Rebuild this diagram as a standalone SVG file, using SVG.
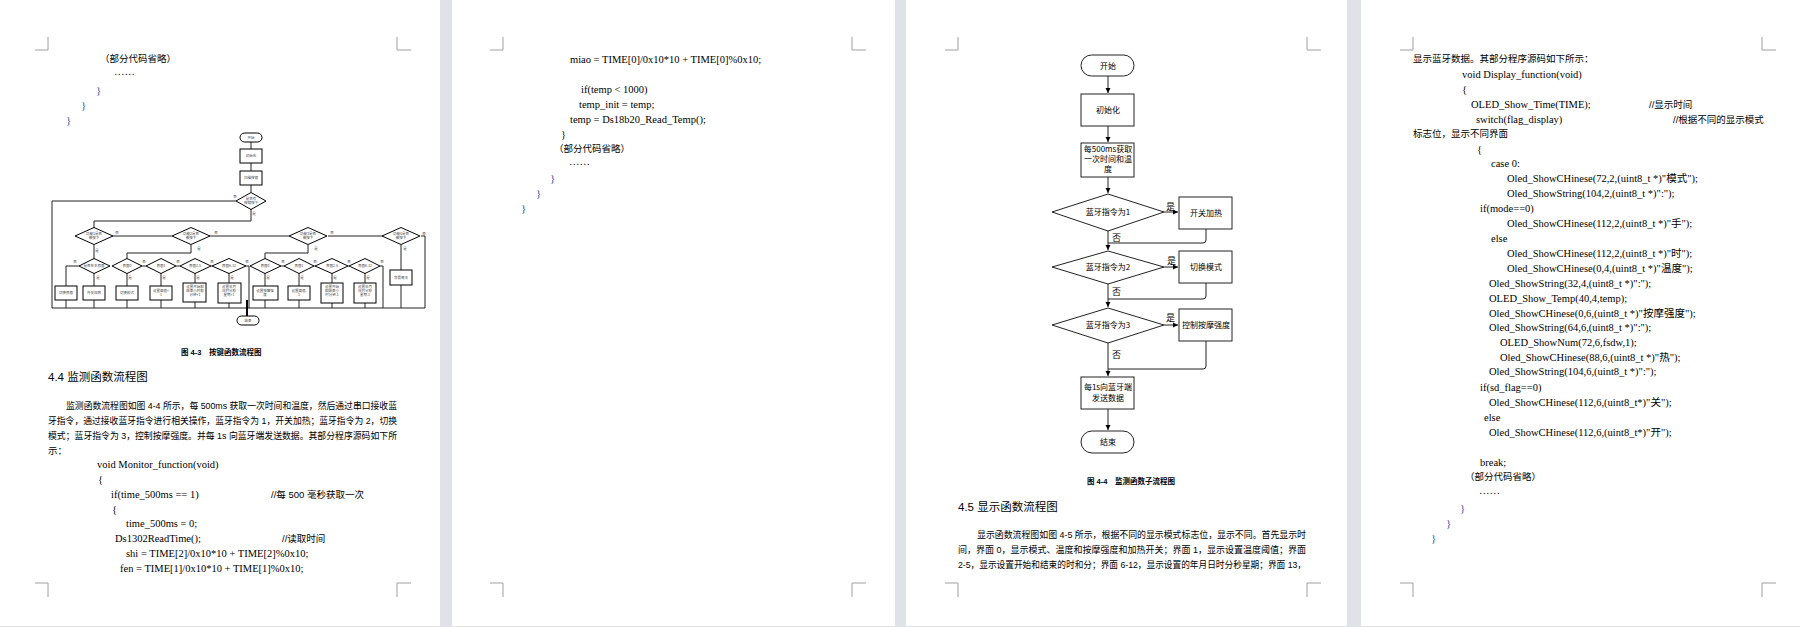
<svg xmlns="http://www.w3.org/2000/svg" width="1800" height="627" viewBox="0 0 1800 627">
<style>
.pg{fill:#fff}
.cm{stroke:#a0a0a0;stroke-width:1;fill:none}
.c{font-family:"Liberation Serif","Noto Sans CJK SC",serif;font-size:10.5px;fill:#000}
.z{font-family:"Liberation Sans","Noto Sans CJK SC",sans-serif;font-size:9.5px;fill:#000}
.h{font-family:"Liberation Sans","Noto Sans CJK SC",sans-serif;font-size:11.5px;fill:#000}
.cap{font-family:"Liberation Sans","Noto Sans CJK SC",sans-serif;font-size:7.5px;font-weight:bold;fill:#000}
.br{font-family:"Liberation Serif",serif;font-size:11px;fill:#1f4fa0}
.s{fill:#fff;stroke:#000;stroke-width:1}
.s1{fill:#fff;stroke:#222;stroke-width:1}
.l{fill:none;stroke:#222;stroke-width:1}
.t{font-family:"Noto Sans CJK SC",sans-serif;font-size:3.5px;fill:#444;text-anchor:middle}
.f{font-family:"Noto Sans CJK SC",sans-serif;font-size:8px;fill:#000;text-anchor:middle}
.fl{font-family:"Noto Sans CJK SC",sans-serif;font-size:9px;fill:#000}
</style>
<defs>
<marker id="a" markerWidth="6" markerHeight="6" refX="5" refY="3" orient="auto" markerUnits="userSpaceOnUse"><path d="M0,0.5 L5,3 L0,5.5 Z" fill="#000"/></marker>
</defs>
<rect width="1800" height="627" fill="#dfe2e6"/>
<rect class="pg" x="0" y="0" width="440" height="626"/>
<rect class="pg" x="452" y="0" width="443" height="626"/>
<rect class="pg" x="906" y="0" width="441" height="626"/>
<rect class="pg" x="1361" y="0" width="439" height="626"/>
<g id="cornermarks">
<path class="cm" d="M35,50H48V37M397,37V50H411M35,583H48V597M397,597V583H411"/>
<path class="cm" d="M490,50H503V37M852,37V50H866M490,583H503V597M852,597V583H866"/>
<path class="cm" d="M945,50H958V37M1307,37V50H1321M945,583H958V597M1307,597V583H1321"/>
<path class="cm" d="M1400,50H1413V37M1762,37V50H1776M1400,583H1413V597M1762,597V583H1776"/>
</g>
<g id="page1-text">
<text class="z" x="100" y="62">（部分代码省略）</text>
<text class="c" x="114" y="75">……</text>
<text class="br" x="96" y="94">}</text>
<text class="br" x="81" y="109">}</text>
<text class="br" x="66" y="124">}</text>
<text class="cap" x="181" y="355">图 4-3　按键函数流程图</text>
<text class="h" x="48" y="381">4.4 监测函数流程图</text>
<text class="z" x="66" y="409" textLength="331" lengthAdjust="spacingAndGlyphs">监测函数流程图如图 4-4 所示，每 500ms 获取一次时间和温度，然后通过串口接收蓝</text>
<text class="z" x="48" y="424" textLength="349" lengthAdjust="spacingAndGlyphs">牙指令，通过接收蓝牙指令进行相关操作，蓝牙指令为 1，开关加热；蓝牙指令为 2，切换</text>
<text class="z" x="48" y="439" textLength="349" lengthAdjust="spacingAndGlyphs">模式；蓝牙指令为 3，控制按摩强度。并每 1s 向蓝牙端发送数据。其部分程序源码如下所</text>
<text class="z" x="48" y="454">示：</text>
<text class="c" x="97" y="468">void Monitor_function(void)</text>
<text class="c" x="98" y="483">{</text>
<text class="c" x="111" y="498">if(time_500ms == 1)</text>
<text class="z" x="271" y="498">//每 500 毫秒获取一次</text>
<text class="c" x="112" y="513">{</text>
<text class="c" x="126" y="527">time_500ms = 0;</text>
<text class="c" x="115" y="542">Ds1302ReadTime();</text>
<text class="z" x="282" y="542">//读取时间</text>
<text class="c" x="126" y="557">shi = TIME[2]/0x10*10 + TIME[2]%0x10;</text>
<text class="c" x="120" y="572">fen = TIME[1]/0x10*10 + TIME[1]%0x10;</text>
</g>
<g id="f43-connectors">
<path class="l" d="M251,142V149M251,163V171M251,185V192M236,201H52V308H425M251,209V221H94V228M113,236H172M210,236H289M328,236H382M421,236H425V308M94,245V259M191,245V253H127V259M308,245V253H265V259M401,245V270M401,285V308M79,266H66V286M94,273V286M142,266H146M176,266H180M211,266H212M246,266H249V308M281,266H284M314,266H315M348,266H349M380,266H383V308M66,300V308M94,300V308M127,273V286M127,300V308M161,273V286M161,300V308M195,273V283M195,302V308M229,273V283M229,303V308M265,273V286M265,300V308M299,273V286M299,300V308M332,273V283M332,303V308M365,273V283M365,303V308"/>
<path d="M247,300V316" stroke="#000" stroke-width="2"/>
</g>
<g id="f43-nodes">
<rect class="s" x="240" y="133" width="22" height="9" rx="4.5"/><text class="t" x="251" y="139">开始</text>
<rect class="s" x="240" y="149" width="22" height="14"/><text class="t" x="251" y="157">初始化</text>
<rect class="s" x="240" y="171" width="22" height="14"/><text class="t" x="251" y="179">扫描按键</text>
<polygon class="s" points="236,201 251,192.5 266,201 251,209.5"/><text class="t" x="251" y="200">是否有</text><text class="t" x="251" y="204">按键按下</text>
<text class="t" x="235" y="198">否</text><text class="t" x="254" y="215">是</text>
<g id="row2">
<polygon class="s" points="75,236 94,227.5 113,236 94,244.5"/><text class="t" x="94" y="235">功能1是否</text><text class="t" x="94" y="239">被按下</text>
<polygon class="s" points="172,236 191,227.5 210,236 191,244.5"/><text class="t" x="191" y="235">功能2是否</text><text class="t" x="191" y="239">被按下</text>
<polygon class="s" points="289,236 308,227.5 327,236 308,244.5"/><text class="t" x="308" y="235">功能3是否</text><text class="t" x="308" y="239">被按下</text>
<polygon class="s" points="382,236 401,227.5 420,236 401,244.5"/><text class="t" x="401" y="235">功能4是否</text><text class="t" x="401" y="239">被按下</text>
<text class="t" x="117" y="234">否</text><text class="t" x="216" y="234">否</text><text class="t" x="332" y="234">否</text><text class="t" x="424" y="235">否</text>
<text class="t" x="97" y="252">是</text><text class="t" x="199" y="250">是</text><text class="t" x="316" y="250">是</text><text class="t" x="405" y="250">是</text>
</g>
<g id="row3">
<polygon class="s" points="79,266 94,258.5 110,266 94,273.5"/><text class="t" x="94" y="267">是否在主界面</text>
<polygon class="s" points="112,266 127,258.5 142,266 127,273.5"/><text class="t" x="127" y="267">界面0</text>
<polygon class="s" points="146,266 161,258.5 176,266 161,273.5"/><text class="t" x="161" y="267">界面1</text>
<polygon class="s" points="180,266 195,258.5 211,266 195,273.5"/><text class="t" x="195" y="267">界面2-5</text>
<polygon class="s" points="212,266 229,258.5 246,266 229,273.5"/><text class="t" x="229" y="267">界面6-12</text>
<polygon class="s" points="250,266 265,258.5 281,266 265,273.5"/><text class="t" x="265" y="267">界面0</text>
<polygon class="s" points="284,266 299,258.5 314,266 299,273.5"/><text class="t" x="299" y="267">界面1</text>
<polygon class="s" points="315,266 332,258.5 348,266 332,273.5"/><text class="t" x="332" y="267">界面2-5</text>
<polygon class="s" points="349,266 365,258.5 380,266 365,273.5"/><text class="t" x="365" y="267">界面6-12</text>
<text class="t" x="75" y="263">否</text><text class="t" x="144" y="263">否</text><text class="t" x="178" y="263">否</text><text class="t" x="212" y="263">否</text><text class="t" x="247" y="263">否</text><text class="t" x="283" y="263">否</text><text class="t" x="315" y="263">否</text><text class="t" x="349" y="263">否</text><text class="t" x="382" y="263">否</text>
<text class="t" x="98" y="279">是</text><text class="t" x="130" y="279">是</text><text class="t" x="164" y="279">是</text><text class="t" x="198" y="279">是</text><text class="t" x="232" y="279">是</text><text class="t" x="268" y="279">是</text><text class="t" x="302" y="279">是</text><text class="t" x="335" y="279">是</text><text class="t" x="368" y="279">是</text>
</g>
<g id="boxes">
<rect class="s" x="55" y="286" width="22" height="14"/><text class="t" x="66" y="294">切换界面</text>
<rect class="s" x="83" y="286" width="22" height="14"/><text class="t" x="94" y="294">开关加热</text>
<rect class="s" x="116" y="286" width="22" height="14"/><text class="t" x="127" y="294">切换模式</text>
<rect class="s" x="150" y="286" width="22" height="14"/><text class="t" x="161" y="292">设置阈值+</text><text class="t" x="161" y="296">1</text>
<rect class="s" x="183" y="283" width="23" height="19"/><text class="t" x="195" y="288">设置开始和</text><text class="t" x="195" y="292">结束小时和</text><text class="t" x="195" y="296">分钟+1</text>
<rect class="s" x="218" y="283" width="23" height="20"/><text class="t" x="229" y="288">设置年月</text><text class="t" x="229" y="292">日时分秒</text><text class="t" x="229" y="296">星期+1</text>
<rect class="s" x="253" y="286" width="25" height="14"/><text class="t" x="265" y="292">设置按摩强</text><text class="t" x="265" y="296">度</text>
<rect class="s" x="288" y="286" width="22" height="14"/><text class="t" x="299" y="292">设置阈值-</text><text class="t" x="299" y="296">1</text>
<rect class="s" x="321" y="283" width="22" height="20"/><text class="t" x="332" y="288">设置开始</text><text class="t" x="332" y="292">和结束小</text><text class="t" x="332" y="296">时分钟-1</text>
<rect class="s" x="354" y="283" width="22" height="20"/><text class="t" x="365" y="288">设置年月</text><text class="t" x="365" y="292">日时分秒</text><text class="t" x="365" y="296">星期-1</text>
<rect class="s" x="390" y="270" width="22" height="15"/><text class="t" x="401" y="279">背景亮灭</text>
<rect class="s" x="237" y="316" width="22" height="9" rx="4.5"/><text class="t" x="248" y="322">结束</text>
</g>
</g>
<g id="page2-text">
<text class="c" x="570" y="63">miao = TIME[0]/0x10*10 + TIME[0]%0x10;</text>
<text class="c" x="581" y="93">if(temp &lt; 1000)</text>
<text class="c" x="579" y="108">temp_init = temp;</text>
<text class="c" x="570" y="123">temp = Ds18b20_Read_Temp();</text>
<text class="c" x="561" y="138">}</text>
<text class="z" x="554" y="152">（部分代码省略）</text>
<text class="c" x="569" y="165">……</text>
<text class="br" x="550" y="182">}</text>
<text class="br" x="536" y="197">}</text>
<text class="br" x="521" y="212">}</text>
</g>
<g id="f44-connectors">
<path class="l" d="M1108,76V93" marker-end="url(#a)"/>
<path class="l" d="M1108,126V142" marker-end="url(#a)"/>
<path class="l" d="M1108,177V193" marker-end="url(#a)"/>
<path class="l" d="M1164,212H1178" marker-end="url(#a)"/>
<path class="l" d="M1206,229V240Q1206,243 1203,243H1108" />
<path class="l" d="M1108,231V250" marker-end="url(#a)"/>
<path class="l" d="M1164,267H1178" marker-end="url(#a)"/>
<path class="l" d="M1206,283V296Q1206,299 1203,299H1108"/>
<path class="l" d="M1108,284V307" marker-end="url(#a)"/>
<path class="l" d="M1164,325H1178" marker-end="url(#a)"/>
<path class="l" d="M1206,341V366Q1206,369 1203,369H1108"/>
<path class="l" d="M1108,343V376" marker-end="url(#a)"/>
<path class="l" d="M1108,409V430" marker-end="url(#a)"/>
</g>
<g id="f44-nodes">
<g id="n-start"><rect class="s1" x="1081" y="55" width="53" height="21" rx="10.5"/><text class="f" x="1108" y="69">开始</text></g>
<g id="n-init"><rect class="s1" x="1081" y="94" width="53" height="32"/><text class="f" x="1108" y="113">初始化</text></g>
<g id="n-get"><rect class="s1" x="1081" y="143" width="53" height="34"/><text class="f" x="1108" y="152">每500ms获取</text><text class="f" x="1108" y="162">一次时间和温</text><text class="f" x="1108" y="172">度</text></g>
<g id="n-d1"><polygon class="s1" points="1052,212 1108,194 1164,212 1108,231"/><text class="f" x="1108" y="215">蓝牙指令为1</text></g>
<g id="n-b1"><rect class="s1" x="1179" y="197" width="53" height="32"/><text class="f" x="1206" y="216">开关加热</text></g>
<g id="n-d2"><polygon class="s1" points="1052,267 1108,251 1164,267 1108,284"/><text class="f" x="1108" y="270">蓝牙指令为2</text></g>
<g id="n-b2"><rect class="s1" x="1179" y="251" width="53" height="32"/><text class="f" x="1206" y="270">切换模式</text></g>
<g id="n-d3"><polygon class="s1" points="1052,325 1108,308 1164,325 1108,343"/><text class="f" x="1108" y="328">蓝牙指令为3</text></g>
<g id="n-b3"><rect class="s1" x="1179" y="309" width="53" height="32"/><text class="f" x="1206" y="328">控制按摩强度</text></g>
<g id="n-send"><rect class="s1" x="1081" y="377" width="53" height="32"/><text class="f" x="1108" y="390">每1s向蓝牙端</text><text class="f" x="1108" y="401">发送数据</text></g>
<g id="n-end"><rect class="s1" x="1081" y="431" width="53" height="22" rx="11"/><text class="f" x="1108" y="445">结束</text></g>
<g id="f44-labels">
<text class="fl" x="1166" y="210">是</text><text class="fl" x="1112" y="241">否</text>
<text class="fl" x="1167" y="264">是</text><text class="fl" x="1112" y="295">否</text>
<text class="fl" x="1166" y="321">是</text><text class="fl" x="1112" y="358">否</text>
</g>
</g>
<g id="page3-text">
<text class="cap" x="1087" y="484">图 4-4　监测函数子流程图</text>
<text class="h" x="958" y="511">4.5 显示函数流程图</text>
<text class="z" x="977" y="538" textLength="329" lengthAdjust="spacingAndGlyphs">显示函数流程图如图 4-5 所示，根据不同的显示模式标志位，显示不同。首先显示时</text>
<text class="z" x="958" y="553" textLength="348" lengthAdjust="spacingAndGlyphs">间，界面 0，显示模式、温度和按摩强度和加热开关；界面 1，显示设置温度阈值；界面</text>
<text class="z" x="958" y="568" textLength="348" lengthAdjust="spacingAndGlyphs">2-5，显示设置开始和结束的时和分；界面 6-12，显示设置的年月日时分秒星期；界面 13，</text>
</g>
<g id="page4-text">
<text class="z" x="1413" y="62">显示蓝牙数据。其部分程序源码如下所示：</text>
<text class="c" x="1462" y="78">void Display_function(void)</text>
<text class="c" x="1462" y="93">{</text>
<text class="c" x="1471" y="108">OLED_Show_Time(TIME);</text>
<text class="z" x="1649" y="108">//显示时间</text>
<text class="c" x="1476" y="123">switch(flag_display)</text>
<text class="z" x="1673" y="123">//根据不同的显示模式</text>
<text class="z" x="1413" y="137">标志位，显示不同界面</text>
<text class="c" x="1477" y="153">{</text>
<text class="c" x="1491" y="167">case 0:</text>
<text class="c" x="1507" y="182">Oled_ShowCHinese(72,2,(uint8_t *)"模式");</text>
<text class="c" x="1507" y="197">Oled_ShowString(104,2,(uint8_t *)":");</text>
<text class="c" x="1480" y="212">if(mode==0)</text>
<text class="c" x="1507" y="227">Oled_ShowCHinese(112,2,(uint8_t *)"手");</text>
<text class="c" x="1491" y="242">else</text>
<text class="c" x="1507" y="257">Oled_ShowCHinese(112,2,(uint8_t *)"时");</text>
<text class="c" x="1507" y="272">Oled_ShowCHinese(0,4,(uint8_t *)"温度");</text>
<text class="c" x="1489" y="287">Oled_ShowString(32,4,(uint8_t *)":");</text>
<text class="c" x="1489" y="302">OLED_Show_Temp(40,4,temp);</text>
<text class="c" x="1489" y="317">Oled_ShowCHinese(0,6,(uint8_t *)"按摩强度");</text>
<text class="c" x="1489" y="331">Oled_ShowString(64,6,(uint8_t *)":");</text>
<text class="c" x="1500" y="346">OLED_ShowNum(72,6,fsdw,1);</text>
<text class="c" x="1500" y="361">Oled_ShowCHinese(88,6,(uint8_t *)"热");</text>
<text class="c" x="1489" y="375">Oled_ShowString(104,6,(uint8_t *)":");</text>
<text class="c" x="1480" y="391">if(sd_flag==0)</text>
<text class="c" x="1489" y="406">Oled_ShowCHinese(112,6,(uint8_t*)"关");</text>
<text class="c" x="1484" y="421">else</text>
<text class="c" x="1489" y="436">Oled_ShowCHinese(112,6,(uint8_t*)"开");</text>
<text class="c" x="1480" y="466">break;</text>
<text class="z" x="1465" y="480">（部分代码省略）</text>
<text class="c" x="1479" y="494">……</text>
<text class="br" x="1460" y="512">}</text>
<text class="br" x="1446" y="527">}</text>
<text class="br" x="1431" y="542">}</text>
</g>
</svg>
